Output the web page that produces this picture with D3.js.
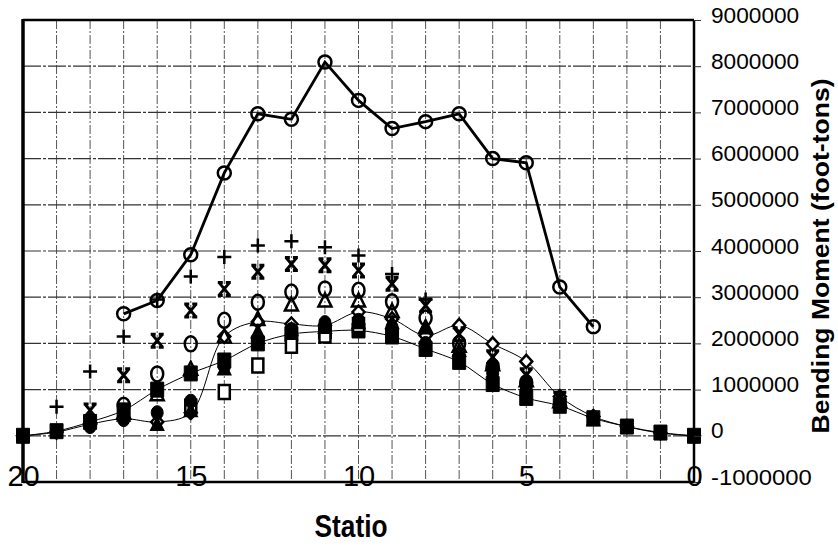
<!DOCTYPE html>
<html>
<head>
<meta charset="utf-8">
<script src="https://cdn.jsdelivr.net/npm/d3@7"></script>
<style>
  body { margin: 0; background: #fff; }
  svg { display: block; font-family: Arial, "Liberation Sans", sans-serif; }
</style>
</head>
<body>
<svg width="838" height="548"></svg>
<script>
// stations run from 20 (left) down to 0 (right)
let stations = d3.range(20, -1, -1)

// values in foot-tons, one entry per station (null = no point)
let mainSeries   = [null, null, null, 2640000, 2930000, 3920000, 5690000, 6970000, 6850000, 8090000, 7260000, 6650000, 6800000, 6970000, 6000000, 5910000, 3220000, 2360000, null, null, null]
let plusSeries   = [null, 630000, 1390000, 2150000, 2950000, 3450000, 3870000, 4120000, 4210000, 4080000, 3900000, 3500000, 2950000, null, null, null, null, null, null, null, null]
let starSeries   = [null, null, 550000, 1310000, 2060000, 2710000, 3180000, 3550000, 3720000, 3690000, 3580000, 3290000, 2820000, 2200000, 1700000, 1310000, 800000, null, null, null, null]
let circleSeries = [null, null, null, 660000, 1340000, 1990000, 2500000, 2890000, 3110000, 3180000, 3150000, 2900000, 2550000, 2000000, 1500000, 1150000, null, null, null, null, null]
let triSeries    = [null, null, null, 500000, 900000, 1450000, 2150000, 2530000, 2840000, 2930000, 2930000, 2700000, 2350000, 1950000, 1550000, 1200000, 750000, null, null, null, null]
let diamondLine  = [0, 80000, 250000, 370000, 300000, 500000, 2150000, 2470000, 2420000, 2390000, 2680000, 2530000, 2170000, 2390000, 1990000, 1610000, 850000, 420000, 200000, 60000, 0]
let squareLine   = [0, 100000, 300000, 550000, 1000000, 1350000, 1630000, 2000000, 2200000, 2260000, 2280000, 2150000, 1880000, 1600000, 1120000, 820000, 650000, 380000, 200000, 70000, 0]
let openSquares  = [null, null, null, null, null, 630000, 950000, 1520000, 1950000, 2170000, 2400000, null, null, null, null, null, null, null, null, null, null]
let dotSeries    = [null, null, 200000, 350000, 500000, 750000, 1500000, 2100000, 2300000, 2450000, 2500000, 2350000, 2000000, 1750000, 1350000, 1000000, 700000, null, null, null, null]
let fillTriSeries = [null, null, 400000, 450000, 250000, 550000, 1450000, 2250000, 2300000, 2350000, 2450000, 2450000, 2350000, 1850000, 1600000, 1200000, 800000, 350000, null, null, null]

let xTicks = [20, 15, 10, 5, 0]
let yTicks = d3.range(-1000000, 9000001, 1000000)

let svg = d3.select('svg')
let plot = { left: 23, right: 694, top: 20, bottom: 482 }

let x = d3.scaleLinear().domain([20, 0]).range([plot.left, plot.right])
let y = d3.scaleLinear().domain([-1000000, 9000000]).range([plot.bottom, plot.top])

function pts(values) {
    return stations.map((s, i) => ({ s: s, v: values[i] })).filter(d => d.v !== null)
}

// grid
let grid = svg.append('g')
grid.selectAll('.vgrid')
    .data(d3.range(1, 20))
    .enter().append('line')
    .attr('x1', d => x(d)).attr('x2', d => x(d))
    .attr('y1', plot.top).attr('y2', plot.bottom)
    .attr('stroke', '#555').attr('stroke-width', 1)
    .attr('stroke-dasharray', '9,2,2,2')

grid.selectAll('.hgrid')
    .data(d3.range(0, 9000000, 1000000))
    .enter().append('line')
    .attr('x1', plot.left).attr('x2', plot.right)
    .attr('y1', d => y(d)).attr('y2', d => y(d))
    .attr('stroke', '#333').attr('stroke-width', 1.2)
    .attr('stroke-dasharray', '18,2,3,2')

// thin smoothed lines
let thin = d3.line().x(d => x(d.s)).y(d => y(d.v)).curve(d3.curveCatmullRom)
svg.append('path').datum(pts(squareLine)).attr('d', thin)
    .attr('fill', 'none').attr('stroke', '#000').attr('stroke-width', 1)
svg.append('path').datum(pts(diamondLine)).attr('d', thin)
    .attr('fill', 'none').attr('stroke', '#000').attr('stroke-width', 1)

// marker shapes
let shapes = {
    plus: { d: 'M-7,0H7M0,-7V7', fill: 'none', w: 2.5 },
    star: { d: 'M-5,-6L5,6M5,-6L-5,6M-6.5,-6.5H-1.5M1.5,-6.5H6.5M-6.5,6.5H-1.5M1.5,6.5H6.5', fill: 'none', w: 3 },
    circle: { d: 'M6,0A6,7.5 0 1 1 -6,0A6,7.5 0 1 1 6,0Z', fill: 'none', w: 2.5 },
    tri: { d: 'M0,-7L6.5,6H-6.5Z', fill: 'none', w: 2.5 },
    diamond: { d: 'M0,-6.5L6,0L0,6.5L-6,0Z', fill: '#fff', w: 2.5 },
    square: { d: 'M-6.5,-7.5H6.5V7.5H-6.5Z', fill: '#000', w: 1 },
    openSquare: { d: 'M-5.5,-7H5.5V7H-5.5Z', fill: '#fff', w: 2.5 },
    dot: { d: 'M6,0A6,7 0 1 1 -6,0A6,7 0 1 1 6,0Z', fill: '#000', w: 1 },
    fillTri: { d: 'M0,-7L6.5,6H-6.5Z', fill: '#000', w: 1.5 }
}

function markers(values, shape) {
    let m = shapes[shape]
    svg.append('g').selectAll('path')
        .data(pts(values))
        .enter().append('path')
        .attr('transform', d => `translate(${x(d.s)},${y(d.v)})`)
        .attr('d', m.d)
        .attr('fill', m.fill)
        .attr('stroke', '#000')
        .attr('stroke-width', m.w)
}

markers(diamondLine, 'diamond')
markers(squareLine, 'square')
markers(openSquares, 'openSquare')
markers(fillTriSeries, 'fillTri')
markers(dotSeries, 'dot')
markers(triSeries, 'tri')
markers(circleSeries, 'circle')
markers(starSeries, 'star')
markers(plusSeries, 'plus')

// thick main line with open circles
let thick = d3.line().x(d => x(d.s)).y(d => y(d.v))
svg.append('path').datum(pts(mainSeries)).attr('d', thick)
    .attr('fill', 'none').attr('stroke', '#000').attr('stroke-width', 2.8)
svg.append('g').selectAll('circle')
    .data(pts(mainSeries))
    .enter().append('circle')
    .attr('cx', d => x(d.s)).attr('cy', d => y(d.v))
    .attr('r', 6.5)
    .attr('fill', 'none').attr('stroke', '#000').attr('stroke-width', 2.5)

// plot frame
svg.append('line').attr('x1', plot.left).attr('x2', plot.left)
    .attr('y1', plot.top - 1).attr('y2', plot.bottom + 1)
    .attr('stroke', '#000').attr('stroke-width', 3.5)
svg.append('line').attr('x1', plot.left).attr('x2', plot.right)
    .attr('y1', plot.top).attr('y2', plot.top)
    .attr('stroke', '#000').attr('stroke-width', 2.5)
svg.append('line').attr('x1', plot.right).attr('x2', plot.right)
    .attr('y1', plot.top).attr('y2', plot.bottom)
    .attr('stroke', '#000').attr('stroke-width', 2.5)
svg.append('line').attr('x1', plot.left).attr('x2', plot.right)
    .attr('y1', plot.bottom).attr('y2', plot.bottom)
    .attr('stroke', '#000').attr('stroke-width', 2.5)

// Y axis (right)
let yAxis = svg.append('g')
    .attr('transform', `translate(${plot.right},0)`)
    .call(d3.axisRight(y).tickValues(yTicks).tickSize(7).tickPadding(10).tickFormat(d => String(d)))
yAxis.select('.domain').remove()
yAxis.selectAll('line').attr('stroke', '#333')
yAxis.selectAll('text')
    .attr('y', -5)
    .attr('font-size', 22)
    .attr('fill', '#000')
    .attr('textLength', d => String(d).length * 12.6)
    .attr('lengthAdjust', 'spacingAndGlyphs')

// X axis (bottom)
let xAxis = svg.append('g')
    .attr('transform', `translate(0,${plot.bottom})`)
    .call(d3.axisBottom(x).tickValues(xTicks).tickSize(0).tickFormat(d3.format('d')))
xAxis.select('.domain').remove()
xAxis.selectAll('text')
    .attr('y', -6)
    .attr('dy', '0.35em')
    .attr('font-size', 29)
    .attr('fill', '#000')

// X label
svg.append('text')
    .attr('x', 351)
    .attr('y', 537)
    .attr('text-anchor', 'middle')
    .attr('font-size', 31)
    .attr('font-weight', 'bold')
    .attr('textLength', 73)
    .attr('lengthAdjust', 'spacingAndGlyphs')
    .text('Statio')

// Y label
svg.append('text')
    .attr('transform', 'translate(829,256) rotate(-90)')
    .attr('text-anchor', 'middle')
    .attr('font-size', 23)
    .attr('font-weight', 'bold')
    .attr('textLength', 355)
    .attr('lengthAdjust', 'spacingAndGlyphs')
    .text('Bending Moment (foot-tons)')
</script>
</body>
</html>
